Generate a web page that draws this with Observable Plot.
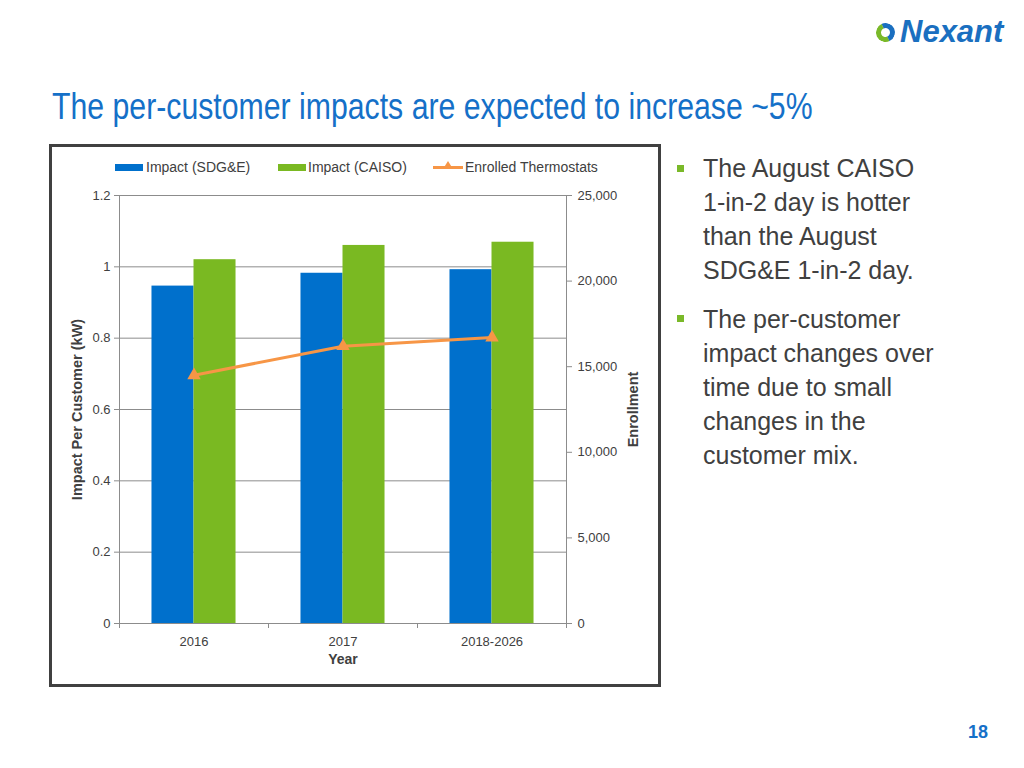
<!DOCTYPE html>
<html>
<head>
<meta charset="utf-8">
<script src="https://cdn.jsdelivr.net/npm/d3@7"></script>
<script src="https://cdn.jsdelivr.net/npm/@observablehq/plot@0.6"></script>
<style>
  html, body { margin: 0; padding: 0; background: #fff; }
  body { width: 1024px; height: 768px; position: relative; overflow: hidden; font-family: "Liberation Sans", Arial, sans-serif; color: #404040; }
  .abs { position: absolute; }
  #title { left: 52px; top: 84px; font-family: "Liberation Sans", Arial, sans-serif; font-size: 36px; color: #1570c8; white-space: nowrap; line-height: 46px; transform: scaleX(0.84); transform-origin: left center; }
  #logo { left: 876px; top: 14px; height: 36px; white-space: nowrap; }
  #logo .icon { display: inline-block; width: 19px; height: 19px; border-radius: 50%; border: 5px solid; border-color: #1a6fc0 #1a6fc0 #7ab929 #7ab929; transform: rotate(20deg); vertical-align: middle; margin-right: 5px; box-sizing: border-box; }
  #logo .word { font-size: 31px; font-weight: 900; font-style: italic; color: #1a6fc0; vertical-align: middle; letter-spacing: 0px; }
  #chartbox { left: 49px; top: 144px; width: 612px; height: 543px; border: 3px solid #404040; box-sizing: border-box; }
  #chart { position: absolute; left: 0; top: 0; }
  .leg { position: absolute; font-size: 14px; line-height: 14px; color: #404040; white-space: nowrap; }
  .sw { position: absolute; height: 7px; }
  .bul { position: absolute; left: 703px; font-size: 25px; line-height: 34px; color: #404040; white-space: nowrap; }
  .sq { position: absolute; left: 677px; width: 7px; height: 7px; background: #7ab929; }
  #page { left: 968px; top: 722px; font-size: 18px; font-weight: bold; color: #1570c8; }
</style>
</head>
<body>
<div id="logo" class="abs"><span class="icon"></span><span class="word">Nexant</span></div>
<div id="title" class="abs">The per-customer impacts are expected to increase ~5%</div>

<div id="chartbox" class="abs"><div id="chart"></div></div>

<!-- legend -->
<div class="sw" style="left:115px; top:164px; width:28px; background:#0070cc;"></div>
<div class="leg" style="left:146px; top:160px;">Impact (SDG&amp;E)</div>
<div class="sw" style="left:278px; top:164px; width:28px; background:#7ab922;"></div>
<div class="leg" style="left:308px; top:160px;">Impact (CAISO)</div>
<div class="sw" style="left:433px; top:166px; width:30px; height:3px; background:#f79646;"></div>
<div class="abs" style="left:443px; top:161px; width:0; height:0; border-left:5px solid transparent; border-right:5px solid transparent; border-bottom:8px solid #f79646;"></div>
<div class="leg" style="left:465px; top:160px;">Enrolled Thermostats</div>

<!-- bullets -->
<div class="sq" style="top:165px;"></div>
<div class="bul" style="top:151px;">The August CAISO<br>1-in-2 day is hotter<br>than the August<br>SDG&amp;E 1-in-2 day.</div>
<div class="sq" style="top:315px;"></div>
<div class="bul" style="top:302px;">The per-customer<br>impact changes over<br>time due to small<br>changes in the<br>customer mix.</div>

<div id="page" class="abs">18</div>

<script>
// ---- data ----
const years = ["2016", "2017", "2018-2026"];
const impactSDGE = [0.946, 0.982, 0.992];
const impactCAISO = [1.02, 1.06, 1.069];
const enrollment = [14500, 16200, 16700];
const leftTicks = [0, 0.2, 0.4, 0.6, 0.8, 1, 1.2];
const rightTicks = [0, 5000, 10000, 15000, 20000, 25000];
const leftMax = 1.2;
const rightMax = 25000;

const k = leftMax / rightMax; // map enrollment onto the left scale
const barW = 0.282;           // bar width as a fraction of a category
const rows = years.map((year, i) => ({
  i, year, sdge: impactSDGE[i], caiso: impactCAISO[i], enroll: enrollment[i]
}));
const grey = "#8c8c8c";
const fmtComma = d3.format(",");

const chart = Plot.plot({
  width: 606,
  height: 537,
  marginLeft: 67,
  marginRight: 92,
  marginTop: 48,
  marginBottom: 61,
  x: { type: "linear", domain: [-0.5, years.length - 0.5] },
  y: { domain: [0, leftMax] },
  style: { fontFamily: "'Liberation Sans', Arial, sans-serif", fontSize: "13px", color: "#404040", background: "transparent" },
  marks: [
    Plot.gridY(leftTicks.slice(1), { stroke: grey, strokeOpacity: 1 }),
    Plot.rectY(rows, { x1: d => d.i - barW, x2: d => d.i, y: "sdge", fill: "#0070cc" }),
    Plot.rectY(rows, { x1: d => d.i, x2: d => d.i + barW, y: "caiso", fill: "#7ab922" }),
    Plot.ruleY([0], { stroke: grey }),
    Plot.ruleX([-0.5, years.length - 0.5], { stroke: grey }),
    Plot.line(rows, { x: "i", y: d => d.enroll * k, stroke: "#f79646", strokeWidth: 3 }),
    Plot.dot(rows, { x: "i", y: d => d.enroll * k, symbol: "triangle", fill: "#f79646", r: 5 }),
    Plot.axisY(leftTicks, { tickSize: 5, tickPadding: 4, stroke: grey, tickFormat: d => String(+d.toFixed(1)), label: null }),
    Plot.axisY(rightTicks.map(v => v * k), { anchor: "right", tickSize: 5, tickPadding: 6, stroke: grey, tickFormat: d => fmtComma(Math.round(d / k)), label: null }),
    Plot.axisX([-0.5, 0.5, 1.5, 2.5], { tickSize: 5, stroke: grey, tickFormat: () => "", label: null }),
    Plot.axisX([0, 1, 2], { tickSize: 0, tickPadding: 13, tickFormat: i => years[i], label: null }),
    Plot.text(["Impact Per Customer (kW)"], { frameAnchor: "left", textAnchor: "middle", dx: -42, rotate: -90, fontWeight: "bold", fontSize: 14.5, fill: "#404040" }),
    Plot.text(["Enrollment"], { frameAnchor: "right", textAnchor: "middle", dx: 67, rotate: -90, fontWeight: "bold", fontSize: 14.5, fill: "#404040" }),
    Plot.text(["Year"], { frameAnchor: "bottom", dy: 40, fontWeight: "bold", fontSize: 14, fill: "#404040" })
  ]
});
document.getElementById("chart").appendChild(chart);
</script>
</body>
</html>
